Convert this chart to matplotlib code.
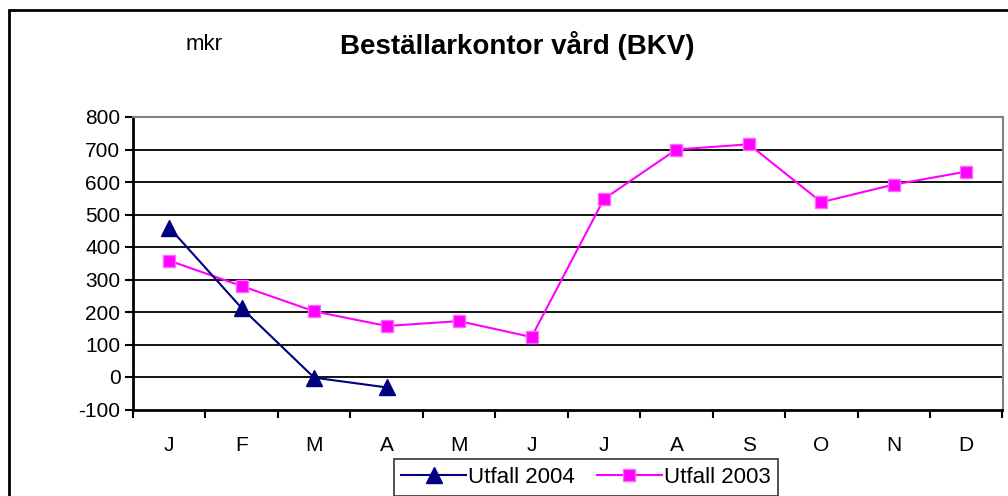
import matplotlib
matplotlib.use("Agg")
import matplotlib.pyplot as plt
from matplotlib.patches import Rectangle

plt.rcParams['font.family'] = ['Liberation Sans', 'DejaVu Sans']
plt.rcParams['axes.unicode_minus'] = False

months = ["J", "F", "M", "A", "M", "J", "J", "A", "S", "O", "N", "D"]
utfall_2004 = [460, 212, -2, -32]
utfall_2003 = [358, 280, 202, 157, 172, 123, 548, 700, 716, 538, 592, 632]
y_ticks = list(range(-100, 900, 100))

W, H = 1008, 496
fig = plt.figure(figsize=(W / 100, H / 100), dpi=100)

# outer chart frame (runs off the right and bottom edge, as in the original)
fig.patches.append(Rectangle((9 / W, -0.05), 1.1, 1 - 10 / H + 0.05,
                             transform=fig.transFigure, fill=False,
                             edgecolor='black', linewidth=2, zorder=0))

ax = fig.add_axes([133 / W, 1 - 409.5 / H, (1002.5 - 133) / W, (409.5 - 117) / H])

x = list(range(len(months)))
ax.plot(x[:len(utfall_2004)], utfall_2004, color='#000080', linewidth=1.5,
        marker='^', markersize=12, label='Utfall 2004', zorder=4)
ax.plot(x, utfall_2003, color='#FF00FF', linewidth=1.5,
        marker='s', markersize=9, markeredgecolor='#FF66FF',
        markeredgewidth=1.0, label='Utfall 2003', zorder=3)

ax.set_xlim(-0.5, len(months) - 0.5)
ax.set_ylim(-100, 800)
ax.set_yticks(y_ticks)
ax.set_xticks(x)
ax.set_xticklabels(months)
ax.set_xticks([i - 0.5 for i in range(len(months) + 1)], minor=True)
ax.tick_params(axis='x', which='major', length=0, pad=19, labelsize=15)
ax.tick_params(axis='x', which='minor', length=6, width=1.5, direction='out')
ax.tick_params(axis='y', length=6, width=1.5, direction='out', labelsize=15, pad=3)

for v in y_ticks[1:-1]:
    ax.axhline(v, color='black', linewidth=1.3, zorder=1)

ax.spines['left'].set_linewidth(2)
ax.spines['bottom'].set_linewidth(2)
ax.spines['top'].set_color('#808080')
ax.spines['right'].set_color('#808080')
ax.spines['top'].set_linewidth(1.5)
ax.spines['right'].set_linewidth(1.5)

fig.text(517 / W, 1 - 45 / H, 'Beställarkontor vård (BKV)', ha='center', va='center',
         fontsize=20, fontweight='bold')
fig.text(204 / W, 1 - 44 / H, 'mkr', ha='center', va='center', fontsize=16)

leg = fig.legend(loc='upper center', bbox_to_anchor=(586 / W, 1 - 459 / H), ncol=2,
                 fontsize=16, frameon=True, fancybox=False, shadow=False,
                 handlelength=2.9, handletextpad=0.1, columnspacing=1.0,
                 borderpad=0.35, borderaxespad=0)
leg.get_frame().set_edgecolor('black')
leg.get_frame().set_linewidth(1.2)

fig.savefig('out.png', dpi=100)
